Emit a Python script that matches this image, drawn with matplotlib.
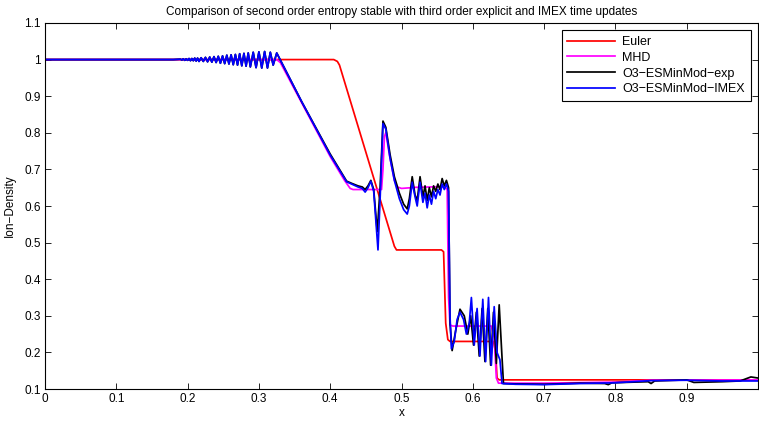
import matplotlib
matplotlib.use("Agg")
import matplotlib.pyplot as plt

plt.rcParams['font.family'] = ['Liberation Sans', 'DejaVu Sans']

# oscillations ahead of the rarefaction (shared by both O3 runs)
osc_x = [0.190, 0.192, 0.194, 0.196, 0.198, 0.200, 0.202, 0.204, 0.206, 0.208,
         0.210, 0.212, 0.214, 0.216, 0.219, 0.222, 0.225, 0.228, 0.231, 0.234,
         0.237, 0.240, 0.243, 0.246, 0.249, 0.252, 0.255, 0.258, 0.261, 0.264,
         0.267, 0.270, 0.273, 0.276, 0.279, 0.282, 0.285, 0.288, 0.292, 0.296,
         0.300, 0.304, 0.308, 0.312, 0.316, 0.320]
osc_y = [1.001, 0.999, 1.002, 0.998, 1.002, 0.998, 1.003, 0.997, 1.003, 0.997,
         1.004, 0.996, 1.004, 0.995, 1.005, 0.995, 1.006, 0.994, 1.007, 0.993,
         1.008, 0.992, 1.009, 0.990, 1.010, 0.989, 1.012, 0.988, 1.013, 0.986,
         1.014, 0.985, 1.016, 0.983, 1.017, 0.982, 1.018, 0.980, 1.020, 0.978,
         1.021, 0.977, 1.022, 0.977, 1.020, 0.985]

euler_x = [0, 0.405, 0.410, 0.413, 0.490, 0.493, 0.556, 0.559, 0.562, 0.565,
           0.568, 0.629, 0.632, 0.634, 0.637, 1.0]
euler_y = [1, 1, 0.995, 0.985, 0.49, 0.48, 0.48, 0.475, 0.28, 0.235,
           0.23, 0.23, 0.2, 0.13, 0.125, 0.125]

mhd_x = [0, 0.325, 0.330, 0.400, 0.420, 0.428, 0.432, 0.472, 0.474, 0.476,
         0.478, 0.483, 0.490, 0.494, 0.500, 0.520, 0.540, 0.560, 0.564, 0.566,
         0.568, 0.572, 0.626, 0.630, 0.633, 0.636, 0.700, 0.800, 0.850, 1.0]
mhd_y = [1, 1, 0.992, 0.735, 0.67, 0.648, 0.645, 0.645, 0.70, 0.79,
         0.80, 0.74, 0.67, 0.652, 0.648, 0.651, 0.652, 0.653, 0.645, 0.35,
         0.275, 0.272, 0.272, 0.24, 0.13, 0.116, 0.116, 0.119, 0.124, 0.125]

exp_x = [0, 0.180] + osc_x + [
    0.325, 0.360, 0.400, 0.423, 0.430, 0.439, 0.445, 0.449, 0.453, 0.457,
    0.461, 0.466, 0.470, 0.474, 0.478, 0.484, 0.490, 0.497, 0.503, 0.508,
    0.511, 0.515, 0.519, 0.522, 0.526, 0.530, 0.533, 0.536, 0.539, 0.542,
    0.545, 0.548, 0.551, 0.554, 0.557, 0.560, 0.563, 0.566, 0.568, 0.571,
    0.576, 0.582, 0.588, 0.593, 0.597, 0.601, 0.605, 0.609, 0.613, 0.617,
    0.621, 0.625, 0.629, 0.633, 0.637, 0.641, 0.643, 0.660, 0.700, 0.750,
    0.785, 0.790, 0.795, 0.846, 0.850, 0.855, 0.900, 0.910, 0.950, 0.975,
    0.990, 1.0]
exp_y = [1, 1] + osc_y + [
    1.018, 0.885, 0.742, 0.668, 0.662, 0.655, 0.652, 0.645, 0.655, 0.670,
    0.645, 0.53, 0.65, 0.832, 0.815, 0.74, 0.68, 0.635, 0.605, 0.592,
    0.62, 0.68, 0.63, 0.615, 0.68, 0.625, 0.655, 0.615, 0.65, 0.625,
    0.655, 0.64, 0.66, 0.645, 0.675, 0.655, 0.67, 0.65, 0.28, 0.205,
    0.26, 0.318, 0.30, 0.25, 0.30, 0.22, 0.31, 0.19, 0.32, 0.175,
    0.32, 0.165, 0.31, 0.17, 0.33, 0.185, 0.115, 0.114, 0.113, 0.116,
    0.115, 0.112, 0.117, 0.120, 0.115, 0.122, 0.125, 0.118, 0.120, 0.122,
    0.133, 0.130]

imex_x = [0, 0.180] + osc_x + [
    0.325, 0.360, 0.400, 0.423, 0.430, 0.439, 0.445, 0.449, 0.453, 0.457,
    0.461, 0.467, 0.470, 0.474, 0.478, 0.484, 0.490, 0.497, 0.503, 0.508,
    0.511, 0.515, 0.519, 0.522, 0.526, 0.530, 0.533, 0.536, 0.539, 0.542,
    0.545, 0.548, 0.551, 0.554, 0.557, 0.560, 0.563, 0.566, 0.568, 0.570,
    0.574, 0.578, 0.582, 0.587, 0.591, 0.595, 0.598, 0.602, 0.606, 0.610,
    0.614, 0.618, 0.622, 0.626, 0.630, 0.634, 0.638, 0.641, 0.660, 0.700,
    0.750, 0.800, 0.850, 0.900, 0.950, 1.0]
imex_y = [1, 1] + osc_y + [
    1.018, 0.885, 0.739, 0.666, 0.66, 0.652, 0.648, 0.638, 0.65, 0.668,
    0.64, 0.48, 0.62, 0.825, 0.81, 0.73, 0.67, 0.62, 0.59, 0.578,
    0.60, 0.665, 0.625, 0.60, 0.665, 0.61, 0.635, 0.595, 0.63, 0.605,
    0.64, 0.62, 0.645, 0.63, 0.66, 0.645, 0.66, 0.64, 0.30, 0.21,
    0.23, 0.29, 0.31, 0.29, 0.25, 0.28, 0.35, 0.22, 0.32, 0.19,
    0.345, 0.175, 0.35, 0.165, 0.325, 0.20, 0.18, 0.115, 0.113, 0.112,
    0.115, 0.117, 0.123, 0.124, 0.122, 0.122]

x_ticks = [0, 0.1, 0.2, 0.3, 0.4, 0.5, 0.6, 0.7, 0.8, 0.9]
x_labels = ['0', '0.1', '0.2', '0.3', '0.4', '0.5', '0.6', '0.7', '0.8', '0.9']
y_ticks = [0.1, 0.2, 0.3, 0.4, 0.5, 0.6, 0.7, 0.8, 0.9, 1.0, 1.1]
y_labels = ['0.1', '0.2', '0.3', '0.4', '0.5', '0.6', '0.7', '0.8', '0.9', '1', '1.1']

fig = plt.figure(figsize=(7.59, 4.24), dpi=100)
ax = fig.add_axes([0.0593, 0.0825, 0.9394, 0.8633])

ax.plot(euler_x, euler_y, color='#ff0000', lw=1.25, label='Euler')
ax.plot(mhd_x, mhd_y, color='#ff00ff', lw=1.25, label='MHD')
ax.plot(exp_x, exp_y, color='black', lw=1.25, label='O3\u2212ESMinMod\u2212exp')
ax.plot(imex_x, imex_y, color='#0000ff', lw=1.25, label='O3\u2212ESMinMod\u2212IMEX')

ax.set_xlim(0, 1)
ax.set_ylim(0.1, 1.1)
ax.set_xticks(x_ticks)
ax.set_xticklabels(x_labels)
ax.set_yticks(y_ticks)
ax.set_yticklabels(y_labels)
ax.tick_params(direction='in', length=4, width=0.6, labelsize=8.5,
               top=True, right=True, pad=3)
for s in ax.spines.values():
    s.set_linewidth(0.8)

ax.set_xlabel('x', fontsize=8.5, labelpad=1)
ax.set_ylabel('Ion\u2212Density', fontsize=8.5, labelpad=6)
ax.set_title('Comparison of second order entropy stable with third order explicit and IMEX time updates',
             fontsize=8.5, pad=6)

leg = ax.legend(loc='upper right', fontsize=9, fancybox=False, framealpha=1,
                edgecolor='black', handlelength=3.8, borderaxespad=0.6,
                labelspacing=0.3, borderpad=0.45, handletextpad=0.6)
leg.get_frame().set_linewidth(0.8)

fig.savefig('out.png', dpi=100)
